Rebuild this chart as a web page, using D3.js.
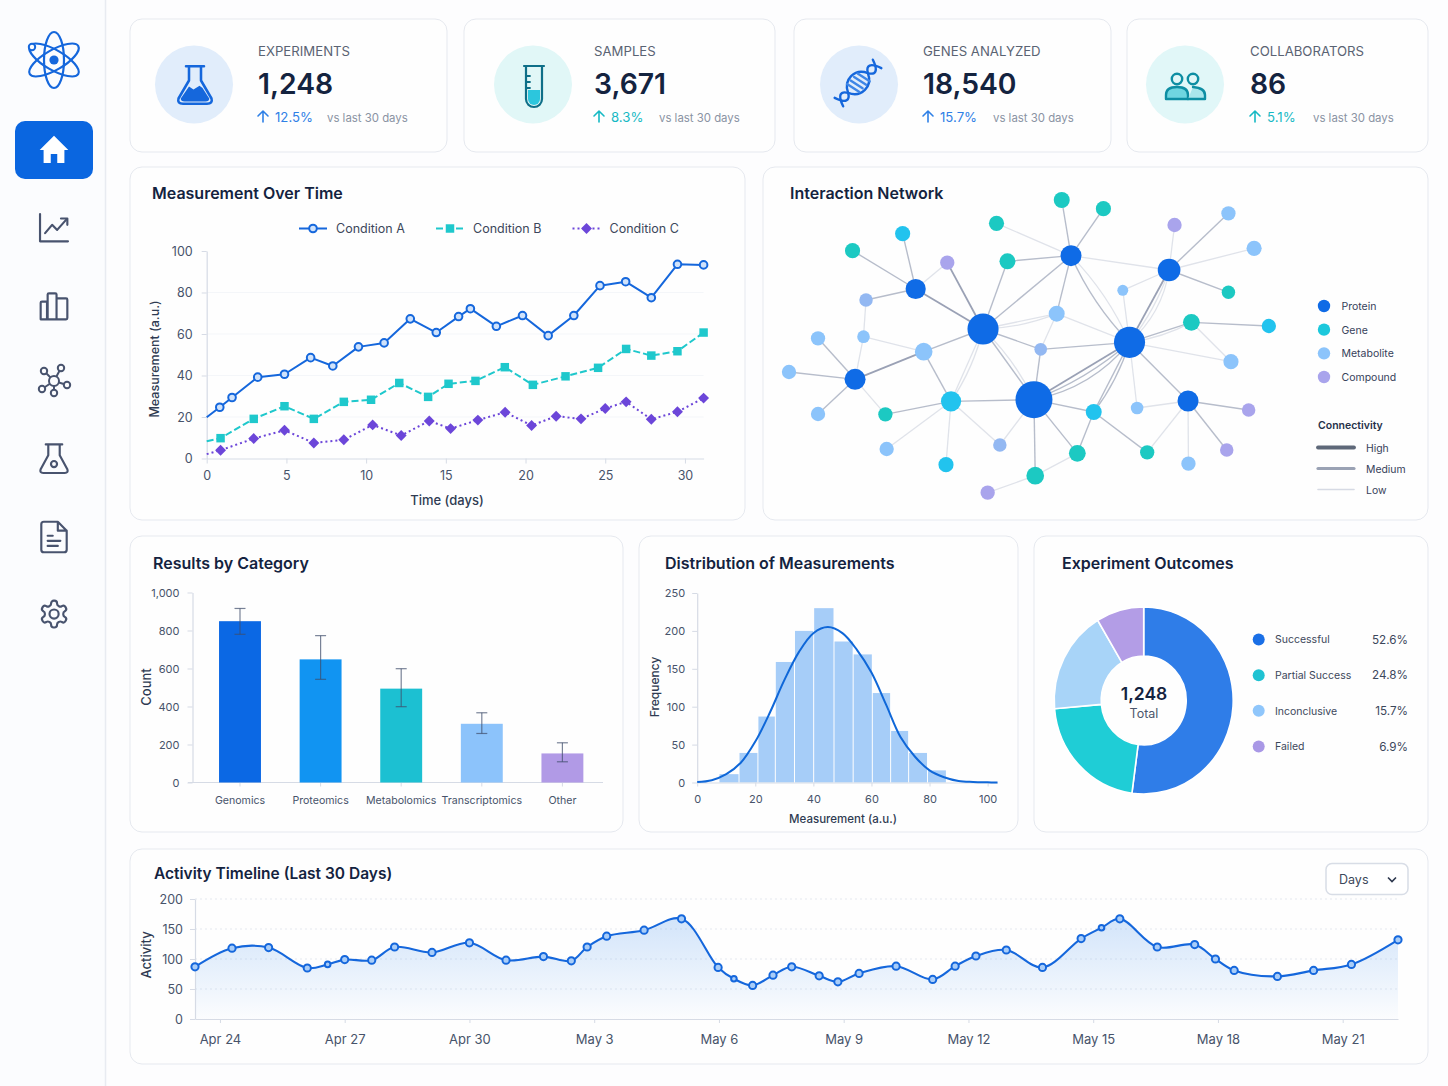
<!DOCTYPE html>
<html>
<head>
<meta charset="utf-8">
<title>Research dashboard</title>
<script src="https://cdn.jsdelivr.net/npm/d3@7/dist/d3.min.js"></script>
<style>
  html, body { margin: 0; padding: 0; background: #fdfdfe; }
  svg { display: block; font-family: Inter, "Noto Sans", sans-serif; }
</style>
</head>
<body>
<svg id="page" width="1448" height="1086"></svg>
<script>
// ---- data ----
const kpiLabels = ["EXPERIMENTS", "SAMPLES", "GENES ANALYZED", "COLLABORATORS"];
const kpiValues = ["1,248", "3,671", "18,540", "86"];
const kpiChanges = ["12.5%", "8.3%", "15.7%", "5.1%"];
const kpiNote = "vs last 30 days";

const conditionNames = ["Condition A", "Condition B", "Condition C"];
const conditionADays = [0, 0.82, 1.59, 3.2, 4.88, 6.52, 7.91, 9.52, 11.13, 12.77, 14.4, 15.8, 16.54, 18.17, 19.81, 21.42, 23.03, 24.67, 26.28, 27.89, 29.53, 31.17];
const conditionAValues = [19.9, 24.7, 29.4, 39.2, 40.6, 48.6, 44.6, 53.8, 55.7, 67.3, 60.7, 68.4, 72.2, 63.7, 68.9, 59.2, 68.9, 83.3, 85.2, 77.5, 93.6, 93.3];
const conditionBDays = [0, 0.87, 2.95, 4.88, 6.72, 8.6, 10.31, 12.08, 13.89, 15.17, 16.86, 18.7, 20.46, 22.51, 24.55, 26.31, 27.89, 29.53, 31.17];
const conditionBValues = [8.3, 9.8, 19.1, 25.2, 19.1, 27.3, 28.3, 36.4, 29.7, 36, 37.4, 44, 35.5, 39.6, 43.7, 52.8, 49.6, 51.7, 60.7];
const conditionCDays = [0, 0.87, 2.95, 4.88, 6.72, 8.6, 10.41, 12.2, 13.96, 15.3, 17.01, 18.72, 20.38, 21.92, 23.48, 25, 26.31, 27.89, 29.53, 31.17];
const conditionCValues = [2.1, 4, 9.6, 13.6, 7.5, 9, 16.2, 11.1, 18.1, 14.4, 18.5, 22.3, 15.9, 20.4, 19.1, 24.1, 27.3, 18.9, 22.5, 29.1];

// network: id, type, layout x, layout y, size (layout units)
const networkNodes = [
  ["p0", "P", 518, 477, 37], ["p1", "P", 639, 689, 44], ["p2", "P", 866, 517, 37], ["p3", "P", 727, 257, 25],
  ["p4", "P", 960, 300, 27], ["p5", "P", 358, 357, 24], ["p6", "P", 214, 628, 25], ["p7", "P", 1005, 693, 25],
  ["g0", "G", 705, 90, 19], ["g1", "G", 804, 116, 18], ["g2", "G", 550, 160, 18], ["g3", "G", 208, 242, 18],
  ["g4", "G", 576, 274, 19], ["g5", "G", 1101, 367, 16], ["g6", "G", 1013, 457, 20], ["g7", "G", 286, 733, 17],
  ["g8", "G", 742, 850, 20], ["g9", "G", 908, 847, 17], ["g10", "G", 642, 917, 21],
  ["c0", "C", 327, 191, 18], ["c1", "C", 442, 694, 24], ["c2", "C", 781, 726, 19], ["c3", "C", 430, 884, 18], ["c4", "C", 1197, 468, 17],
  ["m0", "M", 1101, 130, 17], ["m1", "M", 1162, 235, 18], ["m2", "N", 240, 390, 16], ["m3", "M", 693, 431, 19],
  ["m4", "M", 850, 361, 13], ["m5", "M", 234, 500, 15], ["m6", "M", 126, 505, 17], ["m7", "M", 377, 545, 21],
  ["m8", "N", 655, 538, 15], ["m9", "M", 57, 606, 17], ["m10", "M", 126, 732, 17], ["m11", "M", 1107, 575, 18],
  ["m12", "M", 884, 714, 15], ["m13", "N", 558, 825, 16], ["m14", "M", 289, 837, 17], ["m15", "M", 1006, 881, 17],
  ["k0", "K", 973, 165, 17], ["k1", "K", 433, 278, 17], ["k2", "K", 1149, 720, 16], ["k3", "K", 1097, 840, 16], ["k4", "K", 529, 968, 17]
];
// source, target, connectivity (3 high, 2 medium, 1 low)
const networkLinks = [
  ["p3", "g0", 2], ["p3", "g1", 2], ["p3", "g2", 1], ["p3", "g4", 2], ["p3", "p4", 1], ["p3", "p0", 2], ["p3", "m3", 2],
  ["p4", "k0", 1], ["p4", "m0", 2], ["p4", "m1", 1], ["p4", "g5", 2], ["p4", "m4", 1], ["p4", "p2", 3],
  ["p5", "c0", 2], ["p5", "g3", 2], ["p5", "k1", 1], ["p5", "m2", 2], ["p5", "p0", 3],
  ["p0", "k1", 3], ["p0", "g4", 2], ["p0", "m3", 1], ["p0", "m8", 2], ["p0", "m7", 2], ["p0", "p1", 2], ["p0", "c1", 1],
  ["m2", "m5", 1], ["m5", "m7", 1], ["m5", "p6", 1],
  ["p6", "m6", 2], ["p6", "m9", 2], ["p6", "m10", 2], ["p6", "g7", 1], ["p6", "m7", 3], ["m7", "c1", 2],
  ["c1", "g7", 2], ["c1", "m14", 1], ["c1", "c3", 1], ["c1", "m13", 1], ["c1", "p1", 2],
  ["p1", "m8", 2], ["p1", "c2", 2], ["p1", "g8", 2], ["p1", "g10", 2], ["p1", "m13", 1], ["p1", "p2", 3],
  ["m3", "p2", 1], ["m3", "m8", 1], ["m8", "p2", 2], ["m4", "p2", 1],
  ["p2", "g6", 2], ["p2", "m11", 1], ["p2", "c2", 2], ["p2", "m12", 1], ["p2", "p7", 2],
  ["g6", "c4", 2], ["g6", "m11", 1],
  ["p7", "m12", 1], ["p7", "k2", 2], ["p7", "k3", 2], ["p7", "m15", 1], ["p7", "g9", 1],
  ["c2", "g8", 2], ["c2", "g9", 2], ["g8", "g10", 1], ["g10", "k4", 1]
];
// doubled links that bow away from the straight one: source, target, connectivity, side
const networkArcs = [
  ["p3", "p2", 2, 1], ["p3", "p2", 1, -1], ["p4", "p2", 1, -1], ["p4", "p2", 1, -2],
  ["p0", "p1", 1, -1], ["p0", "c1", 1, -1], ["p1", "p2", 2, 1], ["p1", "p2", 2, 2],
  ["p2", "g6", 1, 1], ["p2", "c2", 2, -1], ["p0", "m3", 1, 1]
];
const networkLegend = ["Protein", "Gene", "Metabolite", "Compound"];
const connectivityLegend = ["High", "Medium", "Low"];

const categoryNames = ["Genomics", "Proteomics", "Metabolomics", "Transcriptomics", "Other"];
const categoryCounts = [849, 648, 494, 309, 153];
const categoryErrHigh = [916, 773, 599, 367, 209];
const categoryErrLow = [780, 543, 399, 258, 109];

const histEdges = [7.5, 14.4, 20.9, 26.9, 33.5, 40.1, 47.1, 53.7, 60.3, 66.6, 72.8, 79.3, 85.8];
const histCounts = [11, 39, 87, 159, 200, 230, 186, 169, 118, 68, 39, 16];
const densityX = [0, 5, 10, 15, 20, 25, 30, 35, 40, 45, 50, 55, 60, 65, 70, 75, 80, 85, 90, 95, 100, 103.4];
const densityY = [0.5, 3, 11, 26, 54, 92, 135, 172, 197, 205, 197, 175, 145, 103, 60, 34, 16, 7, 2, 0.7, 0.2, 0];

const outcomeNames = ["Successful", "Partial Success", "Inconclusive", "Failed"];
const outcomeSlices = [52.1, 21.5, 17.8, 8.6];
const outcomeLabels = ["52.6%", "24.8%", "15.7%", "6.9%"];

// activity: days after Apr 24
const activityDays = [-0.6, 0.29, 1.17, 2.1, 2.59, 3, 3.65, 4.2, 5.1, 6, 6.88, 7.78, 8.45, 8.83, 9.3, 10.2, 11.1, 11.98, 12.36, 12.81, 13.3, 13.75, 14.41, 14.86, 15.37, 16.26, 17.14, 17.68, 18.18, 18.91, 19.78, 20.71, 21.2, 21.64, 22.54, 23.44, 23.94, 24.39, 25.43, 26.3, 27.21, 28.33];
const activityValues = [87, 118, 119, 85, 91, 99, 98, 120, 111, 127, 98, 104, 97, 120, 138, 148, 167, 86, 67, 56, 73, 87, 72, 62, 76, 88, 66, 88, 105, 115, 86, 134, 152, 167, 120, 124, 100, 81, 71, 81, 91, 132];
const activitySmall = [2.59, 12.36, 21.2];
const activityTicks = [0, 3, 6, 9, 12, 15, 18, 21, 24, 27];
const activityTickLabels = ["Apr 24", "Apr 27", "Apr 30", "May 3", "May 6", "May 9", "May 12", "May 15", "May 18", "May 21"];

// ---- helpers ----
const INK = "#14233f", AXIS_TEXT = "#47536a", AXIS_LINE = "#d6dbe5", BLUE = "#1567dc";
const svg = d3.select("#page");

function text(parent, x, y, str, size, opts = {}) {
    return parent.append("text")
        .attr("x", x).attr("y", y)
        .attr("font-size", size)
        .attr("font-weight", opts.weight || 400)
        .attr("fill", opts.fill || AXIS_TEXT)
        .attr("text-anchor", opts.anchor || "start")
        .text(str);
}

function card(x0, y0, x1, y1) {
    svg.append("rect")
        .attr("x", x0).attr("y", y0)
        .attr("width", x1 - x0).attr("height", y1 - y0)
        .attr("rx", 12)
        .attr("fill", "#fefefe")
        .attr("stroke", "#e6e9ef");
}

function title(x, y, str, size = 16) {
    text(svg, x, y, str, size, {weight: 600, fill: INK});
}

function rotatedLabel(x, y, str, size) {
    svg.append("text")
        .attr("transform", "translate(" + x + "," + y + ") rotate(-90)")
        .attr("text-anchor", "middle")
        .attr("font-size", size)
        .attr("font-weight", 500)
        .attr("fill", "#2f3b52")
        .text(str);
}

// shared look for every d3 axis
function styleAxis(g, fontSize, keepDomain) {
    g.attr("font-family", null).attr("font-size", fontSize);
    g.selectAll("text").attr("fill", AXIS_TEXT);
    g.selectAll("line").attr("stroke", AXIS_LINE);
    if (keepDomain) g.select(".domain").attr("stroke", AXIS_LINE).attr("stroke-width", 1.2);
    else g.select(".domain").remove();
}

function icon(x, y, scale, draw) {
    const g = svg.append("g")
        .attr("transform", "translate(" + x + "," + y + ") scale(" + scale + ")")
        .attr("fill", "none")
        .attr("stroke-linecap", "round")
        .attr("stroke-linejoin", "round");
    draw(g);
    return g;
}

function stroked(g, d, color, width) {
    return g.append("path").attr("d", d).attr("stroke", color).attr("stroke-width", width);
}

// ---- sidebar ----
svg.append("rect").attr("width", 105).attr("height", 1086).attr("fill", "#fbfcfe");
svg.append("line").attr("x1", 105.5).attr("x2", 105.5).attr("y1", 0).attr("y2", 1086)
    .attr("stroke", "#e8ebf1").attr("stroke-width", 1.5);

icon(54, 60, 1, g => {
    [0, 60, -60].forEach(angle => {
        g.append("ellipse").attr("rx", 10).attr("ry", 28)
            .attr("transform", "rotate(" + angle + ")")
            .attr("stroke", BLUE).attr("stroke-width", 2.2);
    });
    g.append("circle").attr("r", 4.6).attr("fill", BLUE);
    g.append("circle").attr("cx", -22).attr("cy", -13).attr("r", 3.2)
        .attr("fill", "#fbfcfe").attr("stroke", BLUE).attr("stroke-width", 2);
});

svg.append("rect").attr("x", 15).attr("y", 121).attr("width", 78).attr("height", 58)
    .attr("rx", 10).attr("fill", "#0a66e0");
icon(54, 150, 1.3, g => {
    g.append("path").attr("d", "M0 -11 L-11 0 H-8 V10 H-2.5 V3 H2.5 V10 H8 V0 H11 Z").attr("fill", "#fff");
});

const NAV = "#48536e";
icon(54, 228, 1.27, g => {
    stroked(g, "M-11 -11 V10.5 H11", NAV, 1.7);
    stroked(g, "M-7 4 L-1.5 -2.5 L2.5 1.5 L10 -7", NAV, 1.7);
    stroked(g, "M5.5 -7.5 H10.5 V-2.5", NAV, 1.7);
});
icon(54, 306, 1.27, g => {
    stroked(g, "M-10.5 10.5 V-2.5 Q-10.5 -3.5 -9.5 -3.5 H-5.5 V10.5 M-5 10.5 V-9 Q-5 -10 -4 -10 H1 Q2 -10 2 -9 V10.5 M2 10.5 V-6 H9.5 Q10.5 -6 10.5 -5 V9.5 Q10.5 10.5 9.5 10.5 H-10.5", NAV, 1.7);
});
icon(54, 381, 1, g => {
    const arms = [[-10, -10], [7, -13], [-12, 8], [13, 4], [0, 12]];
    arms.forEach(a => {
        stroked(g, "M0 0 L" + a[0] + " " + a[1], NAV, 2);
        g.append("circle").attr("cx", a[0]).attr("cy", a[1]).attr("r", 3.2)
            .attr("fill", "#fbfcfe").attr("stroke", NAV).attr("stroke-width", 2);
    });
    g.append("circle").attr("r", 5).attr("fill", "#fbfcfe").attr("stroke", NAV).attr("stroke-width", 2);
});
icon(54, 459, 1.27, g => {
    stroked(g, "M-6.5 -11.5 H6.5 M-4.5 -11.5 V-3 L-10.5 8 Q-11.5 11 -8.5 11 H8.5 Q11.5 11 10.5 8 L4.5 -3 V-11.5", NAV, 1.7);
    g.append("circle").attr("cy", 4).attr("r", 2.4).attr("stroke", NAV).attr("stroke-width", 1.7);
});
icon(54, 537, 1.27, g => {
    stroked(g, "M3 -12 H-8 Q-10 -12 -10 -10 V10 Q-10 12 -8 12 H8 Q10 12 10 10 V-5 Z M3 -12 V-5 H10", NAV, 1.7);
    stroked(g, "M-5 -1 H-1 M-5 3 H5 M-5 7 H3", NAV, 1.7);
});
icon(38, 598, 1.34, g => {
    stroked(g, "M12.22 2h-.44a2 2 0 0 0-2 2v.18a2 2 0 0 1-1 1.73l-.43.25a2 2 0 0 1-2 0l-.15-.08a2 2 0 0 0-2.73.73l-.22.38a2 2 0 0 0 .73 2.73l.15.1a2 2 0 0 1 1 1.72v.51a2 2 0 0 1-1 1.74l-.15.09a2 2 0 0 0-.73 2.73l.22.38a2 2 0 0 0 2.73.73l.15-.08a2 2 0 0 1 2 0l.43.25a2 2 0 0 1 1 1.73V20a2 2 0 0 0 2 2h.44a2 2 0 0 0 2-2v-.18a2 2 0 0 1 1-1.73l.43-.25a2 2 0 0 1 2 0l.15.08a2 2 0 0 0 2.73-.73l.22-.39a2 2 0 0 0-.73-2.73l-.15-.08a2 2 0 0 1-1-1.74v-.5a2 2 0 0 1 1-1.74l.15-.09a2 2 0 0 0 .73-2.73l-.22-.38a2 2 0 0 0-2.73-.73l-.15.08a2 2 0 0 1-2 0l-.43-.25a2 2 0 0 1-1-1.73V4a2 2 0 0 0-2-2z", NAV, 1.6);
    g.append("circle").attr("cx", 12).attr("cy", 12).attr("r", 3.4).attr("stroke", NAV).attr("stroke-width", 1.6);
});

// ---- KPI cards ----
const kpiBoxes = [[130, 447, 194, 258], [464, 775, 533, 594], [794, 1111, 859, 923], [1127, 1428, 1185, 1250]];
const kpiTints = ["#e1edfb", "#e1f7f7", "#e1edfb", "#e1f7f8"];
const kpiAccents = ["#2f80e6", "#16b9c4", "#2f80e6", "#16b9c4"];
const kpiNoteGap = [69, 65, 70, 63];

kpiBoxes.forEach((b, i) => {
    card(b[0], 19, b[1], 152);
    svg.append("circle").attr("cx", b[2]).attr("cy", 84.5).attr("r", 39).attr("fill", kpiTints[i]);
    text(svg, b[3], 56, kpiLabels[i], 13.2, {fill: "#5a6373", weight: 400});
    text(svg, b[3], 94, kpiValues[i], 28.3, {weight: 600, fill: INK});
    stroked(icon(b[3] + 5, 117, 1, () => {}), "M0 5 V-6 M-5 -1 L0 -6 L5 -1", kpiAccents[i], 1.6);
    text(svg, b[3] + 17, 122, kpiChanges[i], 13.2, {fill: kpiAccents[i]});
    text(svg, b[3] + kpiNoteGap[i], 122, kpiNote, 11.4, {fill: "#8a93a3"});
});

// flask
icon(195, 85, 1.5, g => {
    g.append("path").attr("d", "M-9.5 9 L-4 1 L-1 3 L3 0.5 L5 2 L9.5 9 Q9.5 11 7 11 H-7 Q-9.5 11 -9.5 9 Z").attr("fill", BLUE);
    stroked(g, "M-6 -12.5 H6 M-4 -12.5 V-3 L-11 9 Q-12 12.5 -8 12.5 H8 Q12 12.5 11 9 L4 -3 V-12.5", BLUE, 1.7);
});
// test tube
icon(534, 86, 1, g => {
    g.append("path").attr("d", "M-6 4 H6 V13 A6 6 0 0 1 -6 13 Z").attr("fill", "#2cc6dd");
    stroked(g, "M-10 -20 H10 M-8 -20 V13 A8 8 0 0 0 8 13 V-20", "#0e6f88", 2.2);
    stroked(g, "M-8 -10 H-4 M-8 -4 H-4 M-8 2 H-4", "#0e6f88", 1.8);
});
// dna
icon(858, 83, 1, g => {
    g.attr("transform", "translate(858,83) rotate(-45)");
    stroked(g, "M-27 -6 C-23 6 -18 7 -14 0 C-8 -13 8 -13 14 0 C18 7 23 6 27 -6", BLUE, 2.4);
    stroked(g, "M-27 6 C-23 -6 -18 -7 -14 0 C-8 13 8 13 14 0 C18 -7 23 -6 27 6", BLUE, 2.4);
    [-7, -2, 3, 8].forEach(v => {
        stroked(g, "M" + (v - 1.5) + " -7 L" + (v + 1.5) + " 7", "#3f86e6", 2.4);
    });
});
// collaborators
icon(1185, 85, 1, g => {
    const teal = "#0e8ea3";
    [-8, 8].forEach(cx => {
        g.append("circle").attr("cx", cx).attr("cy", -6).attr("r", 5.2).attr("stroke", teal).attr("stroke-width", 2.4);
    });
    g.append("path").attr("d", "M-19 14 V10 Q-19 2 -8 2 Q3 2 3 10 V14 Z").attr("fill", "#6fd6e0").attr("stroke", teal).attr("stroke-width", 2.4);
    g.append("path").attr("d", "M8 2 Q20 3 20 10 V14 H3 Z").attr("fill", "#a9e6ec").attr("stroke", "none");
    stroked(g, "M8 2 Q20 3 20 10 V14 H3", teal, 2.4);
});

// ---- Measurement Over Time ----
card(130, 167, 745, 520);
title(152, 199, "Measurement Over Time");

const timeX = d3.scaleLinear().domain([0, 31.17]).range([206.7, 703.6]);
const timeY = d3.scaleLinear().domain([0, 100]).range([458.5, 251]);

svg.append("g").selectAll("line").data([20, 40, 60, 80]).join("line")
    .attr("x1", 207).attr("x2", 703.6)
    .attr("y1", d => timeY(d)).attr("y2", d => timeY(d))
    .attr("stroke", "#f4f6f9");

svg.append("g")
    .attr("transform", "translate(0,458.5)")
    .call(d3.axisBottom(timeX).tickValues([0, 5, 10, 15, 20, 25, 30]).tickSize(5).tickSizeOuter(0).tickPadding(8))
    .call(g => styleAxis(g, 12.5, true));
svg.append("g")
    .attr("transform", "translate(206.7,0)")
    .call(d3.axisLeft(timeY).tickValues([0, 20, 40, 60, 80, 100]).tickSize(5).tickSizeOuter(0).tickPadding(9))
    .call(g => styleAxis(g, 12.5, true));

rotatedLabel(159, 359, "Measurement (a.u.)", 12.5);
text(svg, 447, 505, "Time (days)", 13, {anchor: "middle", weight: 500, fill: "#2f3b52"});

const conditionSeries = [
    {days: conditionADays, values: conditionAValues, color: "#1567dc", dash: null, symbol: null},
    {days: conditionBDays, values: conditionBValues, color: "#1fc8cc", dash: "7 3", symbol: d3.symbolSquare},
    {days: conditionCDays, values: conditionCValues, color: "#6c46d9", dash: "2 3", symbol: d3.symbolDiamond2}
];

function conditionMarker(sel, s) {
    if (s.symbol) {
        sel.append("path")
            .attr("d", d3.symbol().type(s.symbol).size(s.symbol === d3.symbolSquare ? 72 : 76))
            .attr("fill", s.color);
    } else {
        sel.append("circle").attr("r", 3.8)
            .attr("fill", "#cfe2fb").attr("stroke", s.color).attr("stroke-width", 2);
    }
}

const conditionLine = d3.line().x(d => timeX(d[0])).y(d => timeY(d[1]));
conditionSeries.forEach(s => {
    const points = d3.zip(s.days, s.values);
    svg.append("path").datum(points)
        .attr("fill", "none").attr("stroke", s.color).attr("stroke-width", 2)
        .attr("stroke-dasharray", s.dash)
        .attr("stroke-linejoin", "round")
        .attr("d", conditionLine);
    svg.append("g").selectAll("g").data(points.slice(1)).join("g")
        .attr("transform", d => "translate(" + timeX(d[0]) + "," + timeY(d[1]) + ")")
        .each(function () { conditionMarker(d3.select(this), s); });
});

const conditionLegendX = [299, 436, 572.5];
conditionSeries.forEach((s, i) => {
    const x = conditionLegendX[i];
    svg.append("line").attr("x1", x).attr("x2", x + 28).attr("y1", 228.5).attr("y2", 228.5)
        .attr("stroke", s.color).attr("stroke-width", 2).attr("stroke-dasharray", s.dash);
    conditionMarker(svg.append("g").attr("transform", "translate(" + (x + 14) + ",228.5)"), s);
    text(svg, x + 37, 232.5, conditionNames[i], 12.5, {fill: "#3c475b"});
});

// ---- Interaction Network ----
card(763, 167, 1428, 520);
title(790, 199, "Interaction Network");

const netX = d3.scaleLinear().domain([0, 1568]).range([765, 1425]);
const netY = d3.scaleLinear().domain([0, 1050]).range([170, 520]);
const netR = d3.scaleLinear().domain([0, 44]).range([0, 18.5]);
const nodeById = new Map(networkNodes.map(n => [n[0], n]));
const nodeColor = {P: "#0f6be6", G: "#1cc9c2", C: "#22c3ee", M: "#8cc4fb", N: "#93b8f2", K: "#a9a4ec"};
const linkColor = {3: "#9aa1b5", 2: "#b7bdcb", 1: "#e0e3ea"};
const linkWidth = {3: 1.8, 2: 1.4, 1: 1.3};

svg.append("g").selectAll("line").data(networkLinks).join("line")
    .attr("x1", d => netX(nodeById.get(d[0])[2]))
    .attr("y1", d => netY(nodeById.get(d[0])[3]))
    .attr("x2", d => netX(nodeById.get(d[1])[2]))
    .attr("y2", d => netY(nodeById.get(d[1])[3]))
    .attr("stroke", d => linkColor[d[2]])
    .attr("stroke-width", d => linkWidth[d[2]]);

svg.append("g").selectAll("path").data(networkArcs).join("path")
    .attr("fill", "none")
    .attr("stroke", d => linkColor[d[2]])
    .attr("stroke-width", d => linkWidth[d[2]])
    .attr("d", d => {
        const x0 = netX(nodeById.get(d[0])[2]), y0 = netY(nodeById.get(d[0])[3]);
        const x1 = netX(nodeById.get(d[1])[2]), y1 = netY(nodeById.get(d[1])[3]);
        const bow = d[3] * 0.09;
        const cx = (x0 + x1) / 2 - (y1 - y0) * bow, cy = (y0 + y1) / 2 + (x1 - x0) * bow;
        return "M" + x0 + " " + y0 + " Q" + cx + " " + cy + " " + x1 + " " + y1;
    });

svg.append("g").selectAll("circle").data(networkNodes).join("circle")
    .attr("cx", d => netX(d[2]))
    .attr("cy", d => netY(d[3]))
    .attr("r", d => netR(d[4]))
    .attr("fill", d => nodeColor[d[1]]);

const netLegendColors = ["#0f6be6", "#1cc8dc", "#8cc4fb", "#a9a4ec"];
const netLegendY = d3.scalePoint().domain(networkLegend).range([306, 377]);
networkLegend.forEach((name, i) => {
    svg.append("circle").attr("cx", 1324).attr("cy", netLegendY(name)).attr("r", 6.2).attr("fill", netLegendColors[i]);
    text(svg, 1341.5, netLegendY(name) + 4, name, 10.5, {fill: "#36415a"});
});
text(svg, 1318, 429, "Connectivity", 10.5, {weight: 600, fill: "#26324a"});
const connY = d3.scalePoint().domain(connectivityLegend).range([447.5, 489.5]);
const connStroke = ["#5e6879", "#9aa2b4", "#d6dae4"], connWidth = [3.8, 3.2, 1.6];
connectivityLegend.forEach((name, i) => {
    svg.append("line").attr("x1", 1318).attr("x2", 1354)
        .attr("y1", connY(name)).attr("y2", connY(name))
        .attr("stroke", connStroke[i]).attr("stroke-width", connWidth[i]).attr("stroke-linecap", "round");
    text(svg, 1366, connY(name) + 4, name, 10.4, {fill: "#36415a"});
});

// ---- Results by Category ----
card(130, 536, 623, 832);
title(153, 569, "Results by Category");

const catX = d3.scaleBand().domain(categoryNames).range([199.7, 602.7]).paddingInner(0.48).paddingOuter(0.24);
const catY = d3.scaleLinear().domain([0, 1000]).range([782.5, 592.5]);
const catColors = ["#0b68e4", "#1194f2", "#1cc0d2", "#8cc3fb", "#b19ae6"];

svg.append("g")
    .attr("transform", "translate(192.5,0)")
    .call(d3.axisLeft(catY).tickValues([0, 200, 400, 600, 800, 1000]).tickFormat(d3.format(",")).tickSize(5).tickSizeOuter(0).tickPadding(8))
    .call(g => styleAxis(g, 11, true));
svg.append("line").attr("x1", 188).attr("x2", 603).attr("y1", 782.5).attr("y2", 782.5)
    .attr("stroke", AXIS_LINE).attr("stroke-width", 1.2);
svg.append("g")
    .attr("transform", "translate(0,782.5)")
    .call(d3.axisBottom(catX).tickSize(4).tickPadding(10))
    .call(g => styleAxis(g, 10.6, false));

rotatedLabel(151, 687, "Count", 13);

svg.append("g").selectAll("rect").data(categoryNames).join("rect")
    .attr("x", d => catX(d))
    .attr("width", catX.bandwidth())
    .attr("y", (d, i) => catY(categoryCounts[i]))
    .attr("height", (d, i) => catY(0) - catY(categoryCounts[i]))
    .attr("fill", (d, i) => catColors[i]);

const errBars = svg.append("g").attr("stroke", "#3f4d6b").attr("stroke-opacity", 0.7).attr("stroke-width", 1.2);
categoryNames.forEach((name, i) => {
    const cx = catX(name) + catX.bandwidth() / 2;
    errBars.append("line").attr("x1", cx).attr("x2", cx).attr("y1", catY(categoryErrHigh[i])).attr("y2", catY(categoryErrLow[i]));
    [categoryErrHigh[i], categoryErrLow[i]].forEach(v => {
        errBars.append("line").attr("x1", cx - 5.5).attr("x2", cx + 5.5).attr("y1", catY(v)).attr("y2", catY(v));
    });
});

// ---- Distribution of Measurements ----
card(639, 536, 1018, 832);
title(665, 569, "Distribution of Measurements");

const histX = d3.scaleLinear().domain([0, 103.4]).range([697.2, 997.5]);
const histY = d3.scaleLinear().domain([0, 250]).range([782.5, 593]);

svg.append("g").selectAll("rect").data(histCounts).join("rect")
    .attr("x", (d, i) => histX(histEdges[i]) + 0.5)
    .attr("width", (d, i) => histX(histEdges[i + 1]) - histX(histEdges[i]) - 1)
    .attr("y", d => histY(d))
    .attr("height", d => histY(0) - histY(d))
    .attr("fill", "#a6cdf8");

svg.append("g")
    .attr("transform", "translate(0,782.5)")
    .call(d3.axisBottom(histX).tickValues([0, 20, 40, 60, 80, 100]).tickSize(4).tickSizeOuter(0).tickPadding(9))
    .call(g => styleAxis(g, 11, true));
svg.append("g")
    .attr("transform", "translate(697.2,0)")
    .call(d3.axisLeft(histY).tickValues([0, 50, 100, 150, 200, 250]).tickSize(5).tickSizeOuter(0).tickPadding(7))
    .call(g => styleAxis(g, 11, true));

svg.append("path").datum(d3.zip(densityX, densityY))
    .attr("fill", "none").attr("stroke", "#0f67d8").attr("stroke-width", 2)
    .attr("d", d3.line().x(d => histX(d[0])).y(d => histY(d[1])).curve(d3.curveCatmullRom.alpha(0.5)));

rotatedLabel(658.5, 687, "Frequency", 12);
text(svg, 843, 822.5, "Measurement (a.u.)", 11.5, {anchor: "middle", weight: 500, fill: "#2f3b52"});

// ---- Experiment Outcomes ----
card(1034, 536, 1428, 832);
title(1062, 569, "Experiment Outcomes");

const outcomeSliceColors = ["#2f7de8", "#1fcdd6", "#a8d4f8", "#b39de6"];
const outcomeLegendColors = ["#1a6fe6", "#1fc2d2", "#8fc6fb", "#a998e6"];
const pie = d3.pie().sort(null).value(d => d)(outcomeSlices);
const arc = d3.arc().innerRadius(42.5).outerRadius(89.5);

svg.append("g")
    .attr("transform", "translate(1143.7,700.5) scale(1,1.045)")
    .selectAll("path").data(pie).join("path")
    .attr("d", arc)
    .attr("fill", (d, i) => outcomeSliceColors[i])
    .attr("stroke", "#fff").attr("stroke-width", 1.6);

text(svg, 1144, 699.5, "1,248", 17.5, {anchor: "middle", weight: 600, fill: INK});
text(svg, 1144, 717.5, "Total", 12.5, {anchor: "middle", fill: "#4c576c"});

const outcomeY = d3.scalePoint().domain(outcomeNames).range([639.5, 746.5]);
outcomeNames.forEach((name, i) => {
    svg.append("circle").attr("cx", 1258.7).attr("cy", outcomeY(name)).attr("r", 6).attr("fill", outcomeLegendColors[i]);
    text(svg, 1275, outcomeY(name) + 3.8, name, 10.5, {fill: "#3c475b"});
    text(svg, 1408, outcomeY(name) + 4, outcomeLabels[i], 11.7, {anchor: "end", fill: "#3c475b"});
});

// ---- Activity Timeline ----
card(130, 849, 1428, 1064);
title(154, 879, "Activity Timeline (Last 30 Days)", 15.5);

svg.append("rect").attr("x", 1326).attr("y", 863.5).attr("width", 82).attr("height", 31)
    .attr("rx", 6).attr("fill", "#fff").attr("stroke", "#d8dde6").attr("stroke-width", 1.5);
text(svg, 1339, 884, "Days", 12.5, {fill: "#3c475b"});
svg.append("path").attr("d", "M1388 877.5 L1392 881.5 L1396 877.5")
    .attr("fill", "none").attr("stroke", "#2c374d").attr("stroke-width", 1.6);

const activityX = d3.scaleLinear().domain([-0.6, 28.33]).range([195, 1398]);
const activityY = d3.scaleLinear().domain([0, 200]).range([1019, 899]);

const defs = svg.append("defs");
const grad = defs.append("linearGradient").attr("id", "activityFill").attr("x1", 0).attr("x2", 0).attr("y1", 0).attr("y2", 1);
grad.append("stop").attr("offset", "0%").attr("stop-color", "#7db2f2").attr("stop-opacity", 0.34);
grad.append("stop").attr("offset", "100%").attr("stop-color", "#7db2f2").attr("stop-opacity", 0.02);

svg.append("g").selectAll("line").data([50, 100, 150, 200]).join("line")
    .attr("x1", 195).attr("x2", 1398)
    .attr("y1", d => activityY(d)).attr("y2", d => activityY(d))
    .attr("stroke", "#e4e8ef").attr("stroke-dasharray", "2 3");

const activityPoints = d3.zip(activityDays, activityValues);
const activityCurve = d3.curveCatmullRom.alpha(0.5);
svg.append("path").datum(activityPoints)
    .attr("fill", "url(#activityFill)")
    .attr("d", d3.area().x(d => activityX(d[0])).y0(activityY(0)).y1(d => activityY(d[1])).curve(activityCurve));

svg.append("g")
    .attr("transform", "translate(0,1019)")
    .call(d3.axisBottom(activityX).tickValues(activityTicks)
        .tickFormat((d, i) => activityTickLabels[i]).tickSize(4).tickSizeOuter(0).tickPadding(12))
    .call(g => styleAxis(g, 13, true));
svg.append("g")
    .attr("transform", "translate(195,0)")
    .call(d3.axisLeft(activityY).tickValues([0, 50, 100, 150, 200]).tickSize(5).tickSizeOuter(0).tickPadding(7))
    .call(g => styleAxis(g, 12.5, true));

svg.append("path").datum(activityPoints)
    .attr("fill", "none").attr("stroke", BLUE).attr("stroke-width", 2.1)
    .attr("d", d3.line().x(d => activityX(d[0])).y(d => activityY(d[1])).curve(activityCurve));
svg.append("g").selectAll("circle").data(activityPoints).join("circle")
    .attr("cx", d => activityX(d[0]))
    .attr("cy", d => activityY(d[1]))
    .attr("r", d => activitySmall.includes(d[0]) ? 2.8 : 3.6)
    .attr("fill", "#a9cdf8").attr("stroke", BLUE).attr("stroke-width", 2);

rotatedLabel(151, 955, "Activity", 13);
</script>
</body>
</html>
